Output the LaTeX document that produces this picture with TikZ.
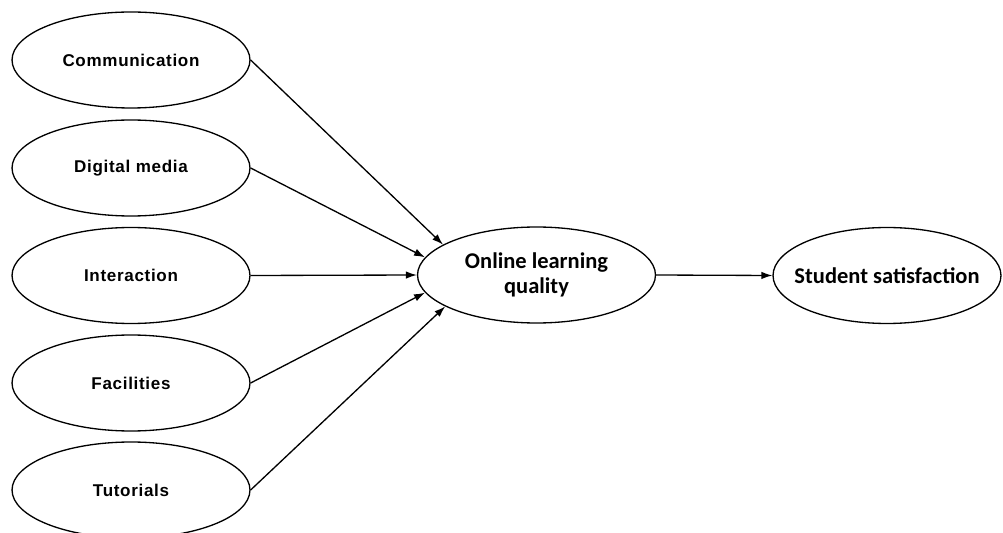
\documentclass[tikz,border=0pt]{standalone}
\usepackage{fontspec}
\setmainfont{Liberation Sans}
\newfontfamily\leftfont[LetterSpace=4]{Liberation Sans}
\newfontfamily\calfont{Carlito}
\usetikzlibrary{arrows.meta,shapes.geometric}
\begin{document}
\begin{tikzpicture}[x=0.02cm,y=-0.02cm,
  oval/.style={ellipse,draw,line width=0.75pt,inner sep=0pt,minimum width=4.76cm,minimum height=1.92cm},
  lefttext/.style={font=\leftfont\bfseries\fontsize{9.7}{11}\selectfont},
  midtext/.style={font=\calfont\bfseries\fontsize{12.8}{14.3}\selectfont,align=center},
  arr/.style={line width=0.75pt,-{Latex[length=2.2mm,width=1.5mm]}}]
\useasboundingbox (0,0) rectangle (1003,533);
\clip (0,0) rectangle (1003,533);
\node[oval,lefttext] (comm) at (131,60) {Communication};
\node[oval,lefttext] (dig) at (131,168) {Digital media};
\node[oval,lefttext] (int) at (131,275.5) {Interaction};
\node[oval,lefttext] (fac) at (131,383) {Facilities};
\node[oval,lefttext] (tut) at (131,490) {Tutorials};
\node[oval,midtext] (olq) at (536.5,275) {Online learning\\quality};
\node[oval,midtext,minimum width=4.56cm,inner xsep=-0.4cm] (ss) at (887,275.5) {Student satisfaction};
\draw[arr] (comm.east) -- (olq.162);
\draw[arr] (dig.east) -- (olq.171);
\draw[arr] (int.east) -- (olq.west);
\draw[arr] (fac.east) -- (olq.189);
\draw[arr] (tut.east) -- (olq.199);
\draw[arr] (olq.east) -- (ss.west);
\end{tikzpicture}
\end{document}
